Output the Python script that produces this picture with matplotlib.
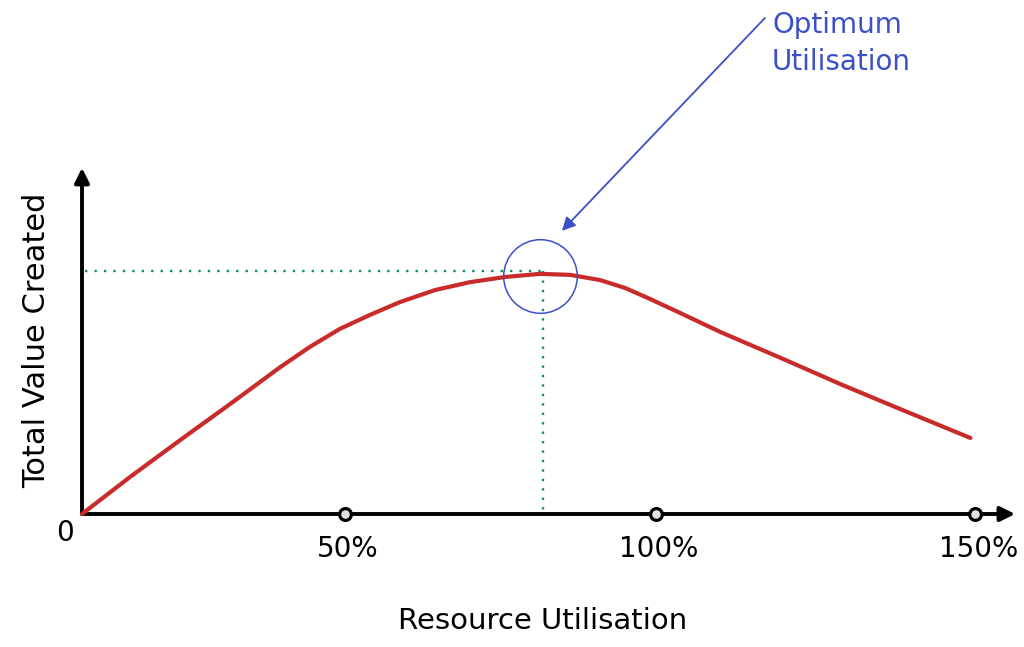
import matplotlib
matplotlib.use('Agg')
import matplotlib.pyplot as plt

# curve (utilisation in %, value in arbitrary units)
utilisation = [0, 8.1, 16.5, 24.9, 33.3, 38.3, 43.3, 48.4, 53.4, 59.3,
               65.2, 71.1, 76.9, 82.0, 87.0, 91.2, 95.4, 100.5, 107.2,
               117.3, 127.3, 137.4, 149.2]
value = [0, 10.8, 21.5, 32.0, 42.7, 48.6, 53.8, 57.9, 61.6, 65.1,
         67.4, 68.9, 69.8, 69.5, 68.0, 65.7, 62.5, 58.4, 52.9,
         45.4, 37.8, 30.5, 22.1]

tick_pos = [44.2, 96.4, 150]
tick_labels = ['50%', '100%', '150%']

optimum_x = 77.4
optimum_y = 70.6

RED = '#c92a2a'
GREEN = '#099268'
BLUE = '#3b4fc7'

plt.rcParams['font.family'] = ['DejaVu Sans']

fig = plt.figure(figsize=(10.24, 6.47), dpi=100)
ax = fig.add_axes([0, 0, 1, 1])
ax.set_xlim(-13.77, 158.2)
ax.set_ylim(-38.66, 149.4)
ax.axis('off')

# axes drawn as arrows
ax.annotate('', xy=(156.7, 0), xytext=(0, 0),
            arrowprops=dict(arrowstyle='-|>', color='black', lw=2.8,
                            mutation_scale=22, shrinkA=0, shrinkB=0))
ax.annotate('', xy=(0, 100.6), xytext=(0, 0),
            arrowprops=dict(arrowstyle='-|>', color='black', lw=2.8,
                            mutation_scale=22, shrinkA=0, shrinkB=0))

# guide lines to the optimum
ax.plot([0.5, optimum_x], [optimum_y, optimum_y], color=GREEN, lw=1.7,
        linestyle=(0, (1, 3)))
ax.plot([optimum_x, optimum_x], [optimum_y, 0], color=GREEN, lw=1.7,
        linestyle=(0, (1, 3)))

ax.plot(utilisation, value, color=RED, lw=3, solid_capstyle='round',
        solid_joinstyle='round', zorder=3)

# tick markers
ax.plot(tick_pos, [0] * len(tick_pos), 'o', ms=8.5, mfc='#dee2e6',
        mec='black', mew=2.3, zorder=4)
for x, lab in zip(tick_pos, tick_labels):
    ax.text(x + 0.5, -10.2, lab, ha='center', va='center', fontsize=20)
ax.text(-2.9, -5.5, '0', ha='center', va='center', fontsize=20)

ax.text(77.4, -31.1, 'Resource Utilisation', ha='center', va='center',
        fontsize=21)
ax.text(-7.6, 50.6, 'Total Value Created', ha='center', va='center',
        rotation=90, fontsize=22)

# optimum marker
ax.plot([76.9], [69.3], 'o', ms=53, mfc='none', mec=BLUE, mew=1.1, zorder=5)
ax.annotate('', xy=(80.6, 82.3), xytext=(114.7, 144.2),
            arrowprops=dict(arrowstyle='-|>', color=BLUE, lw=1.3,
                            mutation_scale=20, shrinkA=0, shrinkB=0))
ax.text(115.9, 142.2, 'Optimum', color=BLUE, ha='left', va='center',
        fontsize=20)
ax.text(115.9, 131.4, 'Utilisation', color=BLUE, ha='left', va='center',
        fontsize=20)

fig.savefig('out.png', dpi=100)
